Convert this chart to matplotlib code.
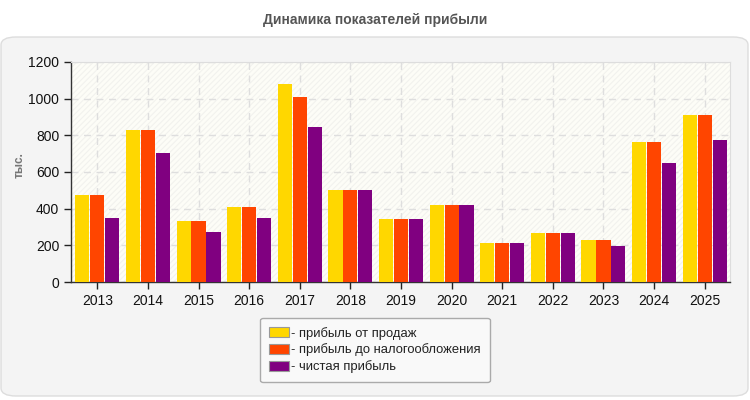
import matplotlib
matplotlib.use("Agg")
import matplotlib.pyplot as plt
import numpy as np
from matplotlib.patches import FancyBboxPatch, Rectangle

years = ["2013", "2014", "2015", "2016", "2017", "2018", "2019", "2020",
         "2021", "2022", "2023", "2024", "2025"]
sales_profit = [476, 831, 335, 411, 1078, 504, 345, 418, 215, 269, 231, 765, 913]
pretax_profit = [476, 831, 335, 411, 1011, 504, 345, 418, 215, 269, 231, 765, 913]
net_profit = [351, 705, 275, 351, 847, 504, 345, 418, 215, 269, 198, 651, 776]
series_labels = ["- прибыль от продаж", "- прибыль до налогообложения", "- чистая прибыль"]
colors = ["#FFD700", "#FF4500", "#800080"]
title = "Динамика показателей прибыли"
ylabel = "тыс."

plt.rcParams['font.family'] = ['Liberation Sans', 'DejaVu Sans']
plt.rcParams['hatch.linewidth'] = 0.8

W, H = 750, 400
fig = plt.figure(figsize=(7.5, 4), dpi=100)
fig.patch.set_facecolor("white")

# Panel background
panel = FancyBboxPatch((1 / W, 1 - 396 / H), 747 / W, (396 - 37) / H,
                       boxstyle="round,pad=0,rounding_size=0.02",
                       transform=fig.transFigure, facecolor="#f4f4f4",
                       edgecolor="#dddddd", linewidth=1, zorder=-10)
fig.patches.append(panel)

fig.text(375 / W, 1 - 20 / H, title, ha="center", va="center",
         fontsize=10, fontweight="bold", color="#555555")

ax_l, ax_r, ax_t, ax_b = 71, 730, 62, 282
ax = fig.add_axes([ax_l / W, 1 - ax_b / H, (ax_r - ax_l) / W, (ax_b - ax_t) / H])
ax.set_facecolor("#fdfdf7")
ax.add_patch(Rectangle((0, 0), 1, 1, transform=ax.transAxes, facecolor="none",
                       edgecolor="#f2f2ee", hatch="//////", linewidth=0, zorder=0))

x = np.arange(len(years))
bw = 0.28
gap = 0.015
for i, (vals, c, lab) in enumerate(zip([sales_profit, pretax_profit, net_profit], colors, series_labels)):
    ax.bar(x + (i - 1) * (bw + gap), vals, width=bw, color=c, label=lab, zorder=3,
           linewidth=0)

ax.set_xlim(-0.52, len(years) - 0.5)
ax.set_ylim(0, 1200)
ax.set_yticks(range(0, 1201, 200))
ax.set_xticks(x)
ax.set_xticklabels(years)
ax.tick_params(axis="both", labelsize=10, colors="#222222", length=5, width=1, direction="out")
ax.tick_params(axis="both", labelcolor="#111111")
ax.grid(True, color="#dedede", linestyle=(0, (5, 4)), linewidth=1, zorder=1)
ax.set_axisbelow(True)
for s in ["top", "right"]:
    ax.spines[s].set_color("#dddddd")
for s in ["left", "bottom"]:
    ax.spines[s].set_color("#333333")
    ax.spines[s].set_linewidth(1)

fig.text(20 / W, 1 - 165 / H, ylabel, rotation=90, ha="center", va="center",
         fontsize=8.5, fontweight="bold", color="#777777")

leg = fig.legend(loc="center", bbox_to_anchor=(375 / W, 1 - 350 / H),
                 frameon=True, fontsize=9.4, handlelength=1.5, handleheight=0.8,
                 handletextpad=0.2, labelspacing=0.3, borderpad=0.7,
                 fancybox=True, edgecolor="#aaaaaa", facecolor="#f9f9f9")
leg.get_frame().set_alpha(1)
for h in leg.legend_handles:
    h.set_edgecolor("#999999")
    h.set_linewidth(0.8)
for t in leg.get_texts():
    t.set_color("#222222")

fig.savefig("out.png", dpi=100)
